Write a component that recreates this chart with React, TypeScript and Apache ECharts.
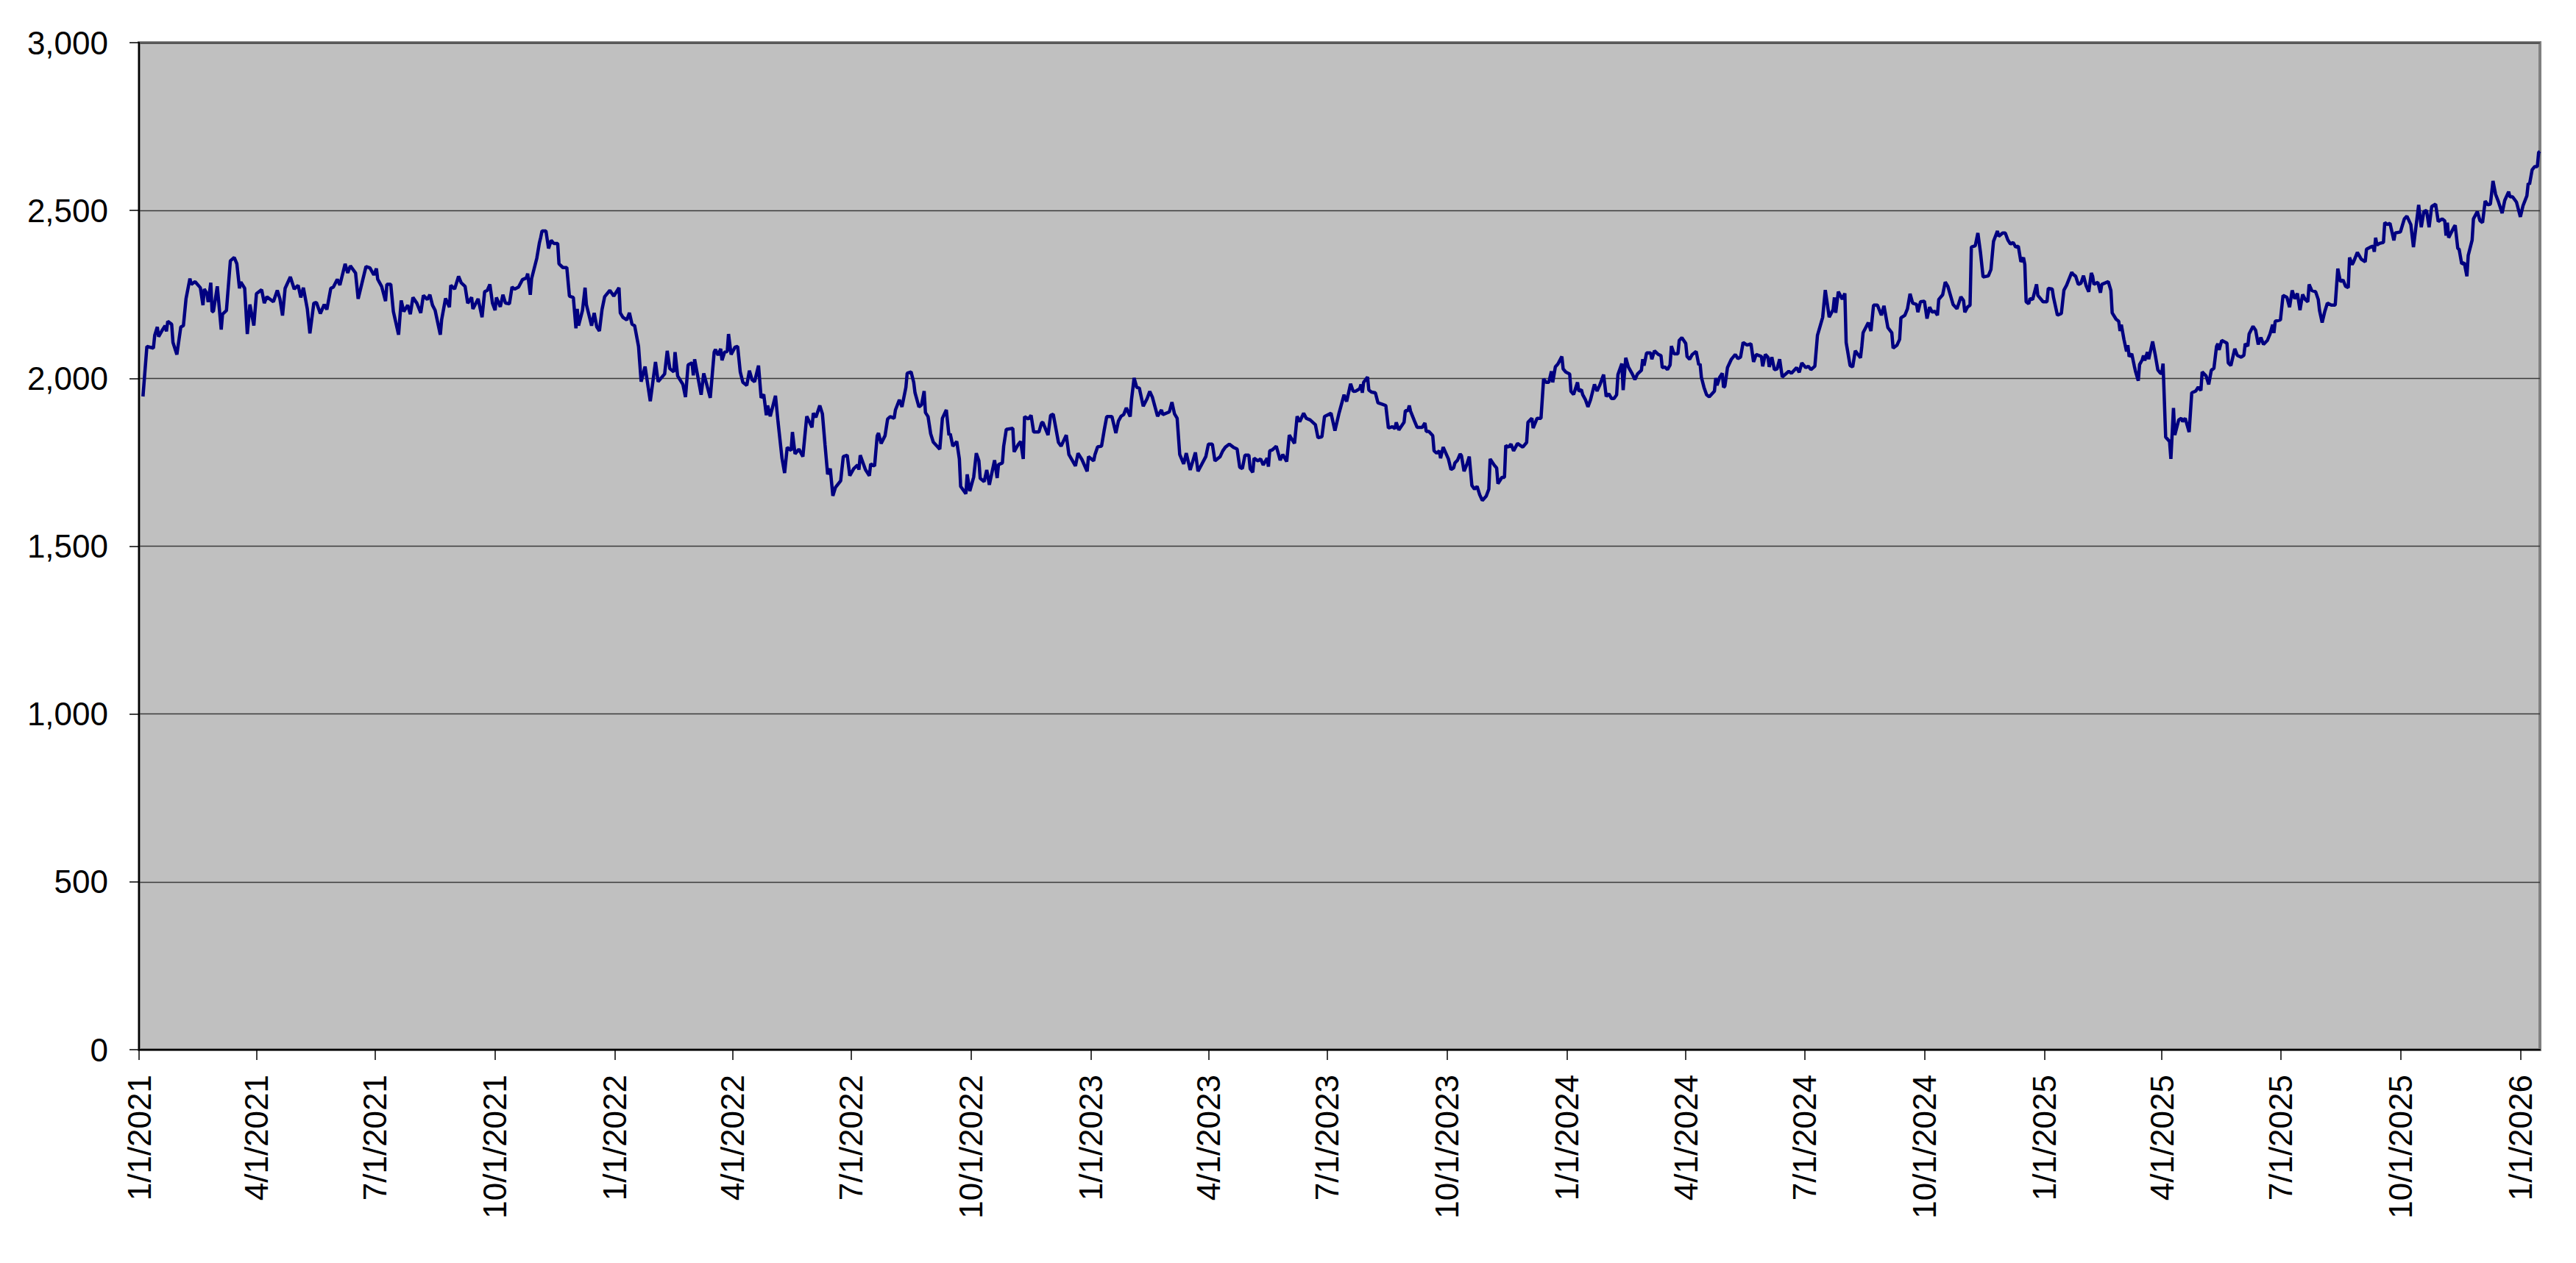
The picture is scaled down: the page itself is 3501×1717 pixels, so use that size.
import React, { useEffect, useRef } from "react";
import * as echarts from "echarts";

// Axis ranges
const START_UTC = Date.UTC(2021, 0, 1);
const LAST_DAY = 1841; // days after 1/1/2021 (last close, mid January 2026)
const Y_MIN = 0;
const Y_MAX = 3000;
const Y_STEP = 500;
const QUARTER_MONTHS = [1, 4, 7, 10];

// [days after 1/1/2021, value]
const points2021: [number, number][] = [
  [3,1946],[6,2095],[11,2090],[12,2128],[14,2153],[15,2124],[18,2145],[20,2157],[21,2140],[22,2170],[25,2161],[26,2107],[29,2071],[32,2153],[34,2157],[36,2237],[39,2297],[40,2280],[43,2288],[47,2270],[49,2218],[50,2266],[52,2253],[53,2227],[55,2285],[56,2199],[57,2199],[60,2274],[63,2145],[64,2191],[67,2202],[70,2350],[73,2360],[75,2341],[77,2268],[78,2287],[81,2268],[83,2132],[85,2220],[88,2157],[90,2252],[94,2264],[96,2224],[98,2243],[103,2228],[106,2262],[108,2237],[110,2187],[112,2268],[116,2302],[119,2266],[122,2277],[124,2241],[126,2270],[129,2207],[131,2134],[134,2224],[136,2226],[139,2193],[142,2220],[144,2205],[147,2268],[149,2272],[152,2295],[154,2278],[158,2341],[160,2314],[162,2335],[166,2314],[168,2237],[174,2333],[177,2329],[180,2308],[182,2327],[183,2295],[186,2274],[189,2230],[190,2280],[193,2280],[195,2199],[199,2130],[201,2232],[203,2199],[206,2218],[208,2191],[210,2241],[213,2224],[216,2195],[218,2247],[221,2235],[223,2249],[225,2218],[227,2203],[231,2130],[232,2174],[235,2238],[238,2212],[239,2277],[242,2266],[245,2304],[247,2285],[250,2274],[252,2224],[255,2241],[256,2207],[260,2237],[263,2182],[265,2258],[267,2262],[269,2280],[271,2224],[273,2203],[274,2241],[277,2213],[279,2249],[281,2224],[284,2222],[286,2272],[288,2266],[291,2272],[294,2294],[297,2299],[298,2312],[300,2249],[301,2297],[305,2358],[307,2404],[308,2420],[309,2439],[312,2439],[314,2387],[316,2411],[318,2402],[321,2402],[322,2341],[325,2330],[328,2330],[330,2245],[333,2241],[335,2149],[336,2207],[337,2157],[340,2202],[342,2270],[343,2220],[347,2157],[349,2195],[351,2153],[353,2141],[355,2205],[357,2243],[361,2262],[364,2245],
];

const points2022: [number, number][] = [
  [368,2270],[369,2195],[371,2182],[374,2174],[376,2195],[378,2161],[380,2157],[383,2095],[385,1990],[388,2035],[392,1932],[396,2049],[398,1990],[403,2013],[405,2082],[407,2029],[410,2019],[411,2078],[413,2007],[417,1982],[419,1944],[421,2040],[424,2046],[425,2009],[426,2057],[431,1951],[433,2015],[438,1942],[441,2078],[442,2086],[444,2069],[446,2088],[447,2054],[449,2078],[451,2080],[452,2132],[454,2071],[457,2093],[459,2095],[461,2019],[463,1988],[466,1979],[468,2023],[470,1996],[472,1990],[475,2038],[477,1942],[479,1952],[481,1890],[482,1919],[484,1887],[488,1948],[490,1869],[493,1762],[495,1718],[497,1794],[500,1785],[501,1840],[503,1775],[506,1789],[509,1767],[512,1887],[516,1854],[517,1896],[519,1884],[522,1919],[524,1894],[526,1802],[528,1714],[530,1731],[532,1650],[534,1675],[538,1695],[540,1767],[543,1771],[545,1710],[548,1731],[551,1742],[552,1728],[553,1771],[557,1728],[560,1710],[561,1745],[564,1739],[566,1829],[567,1837],[569,1806],[572,1829],[574,1879],[576,1886],[579,1881],[580,1906],[583,1936],[585,1915],[588,1973],[589,2015],[592,2019],[594,1988],[595,1957],[598,1915],[600,1921],[602,1962],[603,1898],[605,1886],[607,1835],[609,1810],[614,1789],[616,1881],[619,1906],[621,1831],[622,1835],[624,1798],[627,1812],[629,1760],[630,1678],[634,1656],[635,1714],[637,1664],[640,1706],[642,1777],[644,1754],[645,1702],[648,1692],[650,1727],[652,1683],[656,1756],[658,1703],[659,1743],[662,1748],[663,1798],[665,1848],[670,1851],[671,1781],[674,1802],[676,1812],[678,1760],[679,1886],[682,1879],[684,1890],[686,1840],[690,1840],[692,1867],[693,1869],[697,1831],[699,1890],[701,1893],[705,1809],[707,1798],[711,1831],[713,1773],[718,1739],[720,1777],[723,1758],[727,1723],[728,1767],
];

const points2023: [number, number][] = [
  [732,1754],[733,1773],[735,1796],[738,1798],[740,1844],[742,1886],[746,1886],[749,1837],[751,1873],[753,1887],[755,1892],[757,1912],[760,1886],[761,1936],[763,2001],[765,1973],[767,1971],[770,1917],[773,1940],[775,1961],[777,1944],[781,1887],[784,1906],[785,1892],[790,1900],[792,1929],[794,1894],[796,1881],[798,1773],[801,1745],[803,1777],[806,1727],[810,1779],[812,1723],[815,1745],[818,1767],[820,1804],[823,1804],[825,1754],[829,1767],[831,1784],[833,1795],[836,1804],[839,1795],[842,1789],[844,1735],[846,1731],[848,1771],[851,1771],[852,1731],[854,1720],[855,1762],[858,1754],[860,1760],[862,1742],[865,1762],[866,1737],[867,1784],[869,1787],[871,1794],[872,1798],[875,1756],[877,1773],[880,1752],[882,1831],[886,1806],[888,1887],[890,1871],[893,1896],[895,1881],[898,1876],[902,1862],[904,1823],[907,1826],[909,1886],[914,1896],[917,1844],[920,1894],[924,1951],[926,1931],[929,1984],[931,1961],[933,1962],[936,1969],[937,1982],[938,1957],[939,1988],[942,2004],[943,1965],[945,1959],[948,1957],[950,1927],[953,1923],[956,1919],[958,1852],[961,1856],[963,1850],[964,1869],[966,1846],[970,1869],[971,1904],[973,1904],[974,1919],[975,1902],[978,1873],[980,1854],[984,1854],[986,1867],[987,1842],[989,1842],[992,1829],[993,1784],[995,1777],[997,1784],[998,1762],[1000,1795],[1004,1760],[1006,1728],[1008,1733],[1009,1748],[1011,1756],[1013,1775],[1014,1770],[1016,1723],[1018,1742],[1020,1767],[1022,1681],[1024,1670],[1026,1678],[1028,1653],[1030,1636],[1033,1649],[1035,1670],[1036,1760],[1039,1742],[1041,1733],[1042,1686],[1045,1705],[1047,1705],[1048,1800],[1050,1795],[1052,1804],[1054,1784],[1057,1806],[1061,1795],[1064,1809],[1065,1869],[1068,1881],[1069,1852],[1072,1881],[1075,1881],[1077,1998],[1079,1988],[1081,1988],[1083,2021],[1084,1988],[1086,2034],[1088,2043],[1091,2065],[1092,2028],[1094,2019],
];

const points2024: [number, number][] = [
  [1097,2013],[1098,1961],[1100,1952],[1103,1988],[1104,1962],[1106,1966],[1107,1951],[1109,1937],[1111,1915],[1113,1936],[1116,1982],[1118,1962],[1120,1979],[1123,2011],[1125,1946],[1127,1954],[1129,1940],[1131,1940],[1133,1951],[1134,2011],[1137,2044],[1138,1965],[1140,2061],[1142,2034],[1145,2013],[1147,1996],[1149,2013],[1152,2024],[1153,2057],[1154,2038],[1156,2076],[1159,2076],[1160,2057],[1162,2082],[1165,2071],[1167,2068],[1168,2032],[1170,2034],[1172,2026],[1174,2040],[1175,2096],[1177,2073],[1180,2073],[1181,2113],[1183,2121],[1186,2104],[1187,2065],[1189,2057],[1191,2071],[1194,2080],[1196,2040],[1197,2043],[1198,2003],[1200,1973],[1202,1951],[1204,1945],[1208,1962],[1209,2001],[1210,1979],[1212,2003],[1214,2015],[1215,1973],[1216,1977],[1218,2032],[1221,2057],[1224,2071],[1226,2059],[1228,2063],[1230,2107],[1233,2099],[1236,2103],[1238,2049],[1240,2071],[1244,2065],[1245,2036],[1247,2071],[1249,2063],[1250,2034],[1252,2063],[1254,2026],[1256,2028],[1258,2057],[1260,2004],[1265,2021],[1267,2015],[1271,2032],[1273,2018],[1275,2046],[1278,2032],[1280,2036],[1282,2026],[1285,2036],[1287,2128],[1289,2155],[1291,2182],[1293,2263],[1294,2236],[1296,2182],[1299,2205],[1300,2241],[1301,2195],[1303,2258],[1306,2236],[1308,2253],[1309,2107],[1312,2038],[1314,2034],[1316,2082],[1320,2061],[1321,2095],[1322,2136],[1326,2166],[1328,2141],[1330,2218],[1333,2218],[1336,2188],[1338,2216],[1341,2151],[1344,2136],[1345,2090],[1348,2099],[1350,2116],[1351,2180],[1354,2188],[1356,2207],[1358,2252],[1360,2224],[1363,2220],[1364,2197],[1366,2228],[1369,2230],[1371,2178],[1373,2212],[1375,2197],[1377,2200],[1379,2188],[1380,2235],[1383,2249],[1385,2287],[1387,2274],[1391,2220],[1394,2207],[1397,2243],[1399,2232],[1400,2197],[1402,2212],[1404,2218],[1405,2391],[1408,2395],[1410,2433],[1412,2375],[1414,2302],[1418,2305],[1420,2324],[1422,2408],[1425,2439],[1426,2423],[1429,2433],[1431,2433],[1433,2412],[1435,2400],[1437,2405],[1439,2391],[1441,2394],[1443,2347],[1445,2360],[1446,2339],[1447,2228],[1449,2222],[1450,2238],[1452,2235],[1455,2280],[1456,2247],[1460,2228],
];

const points2025: [number, number][] = [
  [1463,2228],[1464,2268],[1467,2266],[1468,2241],[1471,2188],[1474,2193],[1476,2263],[1478,2277],[1482,2316],[1483,2310],[1485,2304],[1487,2280],[1489,2283],[1491,2306],[1493,2276],[1495,2258],[1497,2314],[1498,2304],[1499,2280],[1502,2286],[1504,2255],[1505,2280],[1510,2288],[1512,2262],[1513,2195],[1516,2176],[1518,2170],[1519,2141],[1520,2160],[1522,2116],[1524,2080],[1525,2099],[1526,2065],[1528,2073],[1530,2036],[1531,2019],[1533,1993],[1534,2041],[1536,2055],[1537,2068],[1538,2053],[1540,2078],[1541,2057],[1544,2110],[1546,2070],[1548,2025],[1550,2015],[1551,2015],[1552,2044],[1554,1825],[1557,1812],[1558,1760],[1560,1912],[1561,1831],[1564,1876],[1566,1881],[1567,1871],[1569,1881],[1572,1840],[1574,1957],[1577,1962],[1579,1974],[1581,1964],[1582,2019],[1585,2007],[1587,1982],[1589,2024],[1591,2030],[1593,2095],[1594,2103],[1595,2085],[1597,2113],[1601,2105],[1602,2046],[1604,2038],[1607,2088],[1609,2068],[1612,2063],[1614,2069],[1615,2103],[1617,2096],[1618,2132],[1621,2155],[1623,2143],[1625,2101],[1627,2122],[1629,2101],[1632,2113],[1634,2132],[1636,2160],[1637,2135],[1638,2170],[1642,2174],[1644,2247],[1647,2241],[1649,2212],[1651,2262],[1653,2237],[1655,2253],[1657,2203],[1659,2250],[1661,2235],[1663,2228],[1664,2280],[1666,2262],[1669,2258],[1671,2235],[1672,2202],[1674,2166],[1676,2199],[1678,2224],[1681,2218],[1684,2218],[1686,2327],[1688,2288],[1690,2293],[1692,2274],[1694,2270],[1695,2360],[1697,2339],[1698,2346],[1701,2375],[1704,2355],[1707,2347],[1708,2385],[1711,2391],[1713,2394],[1714,2377],[1715,2419],[1716,2397],[1718,2402],[1721,2405],[1722,2464],[1724,2458],[1726,2462],[1729,2411],[1730,2433],[1734,2436],[1737,2475],[1739,2483],[1742,2458],[1744,2391],[1746,2454],[1748,2517],[1750,2450],[1752,2497],[1754,2500],[1756,2450],[1758,2512],[1761,2519],[1763,2467],[1766,2475],[1768,2469],[1769,2425],[1770,2464],[1771,2419],[1775,2450],[1776,2456],[1778,2387],[1779,2385],[1781,2341],[1783,2344],[1785,2304],[1786,2366],[1789,2412],[1790,2475],[1793,2497],[1795,2470],[1797,2464],[1799,2528],[1801,2517],[1803,2519],[1805,2588],[1807,2548],[1809,2528],[1812,2492],[1814,2530],[1817,2556],[1818,2541],[1820,2541],[1823,2525],
];

const points2026: [number, number][] = [
  [1826,2481],[1828,2514],[1831,2544],[1832,2581],[1833,2578],[1835,2621],[1837,2631],[1839,2631],[1840,2673],[1841,2676],
];

const allPoints = [...points2021, ...points2022, ...points2023, ...points2024, ...points2025, ...points2026];

function dayLabel(i: number): string {
  const d = new Date(START_UTC + i * 86400000);
  return `${d.getUTCMonth() + 1}/${d.getUTCDate()}/${d.getUTCFullYear()}`;
}

const categories: string[] = Array.from({ length: LAST_DAY + 1 }, (_, i) => dayLabel(i));
const seriesData: (number | null)[] = new Array(LAST_DAY + 1).fill(null);
allPoints.forEach(([d, v]) => {
  seriesData[d] = v;
});

function isQuarterStart(label: string): boolean {
  const parts = label.split("/");
  return parts[1] === "1" && QUARTER_MONTHS.includes(Number(parts[0]));
}

export default function App() {
  const ref = useRef<HTMLDivElement>(null);

  useEffect(() => {
    document.body.style.margin = "0";
    document.documentElement.style.overflow = "hidden";
    if (!ref.current) return;
    const chart = echarts.init(ref.current, undefined, { renderer: "svg" });
    const font = "'Liberation Sans', Arial, sans-serif";
    chart.setOption({
      animation: false,
      backgroundColor: "#ffffff",
      grid: {
        left: 189,
        top: 58,
        right: 49,
        bottom: 290,
        show: true,
        backgroundColor: "#C0C0C0",
        borderColor: "#808080",
        borderWidth: 4,
      },
      xAxis: {
        type: "category",
        data: categories,
        boundaryGap: false,
        axisLine: { show: true, onZero: false, lineStyle: { color: "#000000", width: 2 } },
        axisTick: {
          show: true,
          interval: (_i: number, v: string) => isQuarterStart(v),
          length: 14,
          lineStyle: { color: "#000000", width: 1.5 },
        },
        axisLabel: {
          interval: (_i: number, v: string) => isQuarterStart(v),
          rotate: 90,
          margin: 34,
          fontSize: 44,
          fontFamily: font,
          color: "#000000",
        },
        splitLine: { show: false },
      },
      yAxis: {
        type: "value",
        min: Y_MIN,
        max: Y_MAX,
        interval: Y_STEP,
        axisLine: { show: true, lineStyle: { color: "#000000", width: 2 } },
        axisTick: { show: true, length: 13, lineStyle: { color: "#000000", width: 1.5 } },
        axisLabel: {
          margin: 42,
          fontSize: 44,
          fontFamily: font,
          color: "#000000",
          formatter: (v: number) => v.toLocaleString("en-US"),
        },
        splitLine: { show: true, lineStyle: { color: "#3a3a3a", width: 1.3 } },
      },
      series: [
        {
          type: "line",
          data: seriesData,
          connectNulls: true,
          showSymbol: false,
          symbol: "none",
          lineStyle: { color: "#000080", width: 4.5 },
          itemStyle: { color: "#000080" },
        },
      ],
    });
    return () => chart.dispose();
  }, []);

  return <div ref={ref} style={{ width: 3501, height: 1717 }} />;
}
